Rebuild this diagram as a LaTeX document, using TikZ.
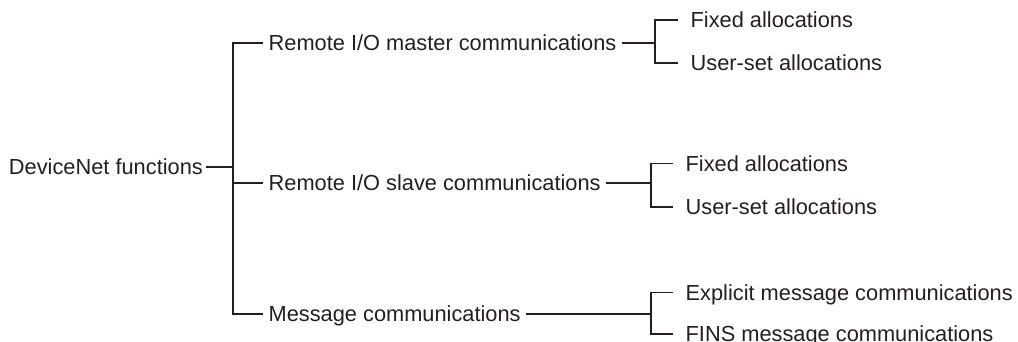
\documentclass[tikz,border=0pt]{standalone}
\usepackage{fontspec}
\setmainfont{Liberation Sans}
\definecolor{cink}{HTML}{231F20}
\tikzset{
  every picture/.style={line width=0.65pt},
  item/.style={anchor=west, text=cink, font=\fontsize{10.9}{13}\selectfont, text height=7.85pt, text depth=0pt, inner ysep=0pt, inner xsep=2.5pt},
  leaf/.style={item, inner xsep=6pt},
  root/.style={item, anchor=east, inner xsep=1pt},
  link/.style={draw=cink},
}

\begin{document}
\begin{tikzpicture}[x=0.5pt, y=-0.5pt]
  \useasboundingbox (0,0) rectangle (1018,342);
  % root and first level
  \node[root] (devnet) at (205.5,167) {DeviceNet functions};
  \coordinate (trunk) at (233,167);
  \node[item] (master) at (263,43) {Remote I/O master communications};
  \node[item] (slave) at (263,183) {Remote I/O slave communications};
  \node[item] (msg) at (263,314) {Message communications};
  \draw[link] (devnet.east) -- (trunk);
  \draw[link] (master.west) -| (trunk) |- (msg.west);
  \draw[link] (trunk |- slave.west) -- (slave.west);
  % master branch
  \coordinate (brA) at (655,43);
  \node[leaf] (fixA) at (678,20) {Fixed allocations};
  \node[leaf] (userA) at (678,63) {User-set allocations};
  \draw[link] (master.east) -- (brA);
  \draw[link] (fixA.west) -| (brA) |- (userA.west);
  % slave branch
  \coordinate (brB) at (651,183);
  \node[leaf] (fixB) at (673,163.5) {Fixed allocations};
  \node[leaf] (userB) at (673,207) {User-set allocations};
  \draw[link] (slave.east) -- (brB);
  \draw[link] (fixB.west) -| (brB) |- (userB.west);
  % message branch
  \coordinate (brC) at (651,314);
  \node[leaf] (expl) at (673,292.7) {Explicit message communications};
  \node[leaf] (fins) at (673,334) {FINS message communications};
  \draw[link] (msg.east) -- (brC);
  \draw[link] (expl.west) -| (brC) |- (fins.west);
\end{tikzpicture}
\end{document}
